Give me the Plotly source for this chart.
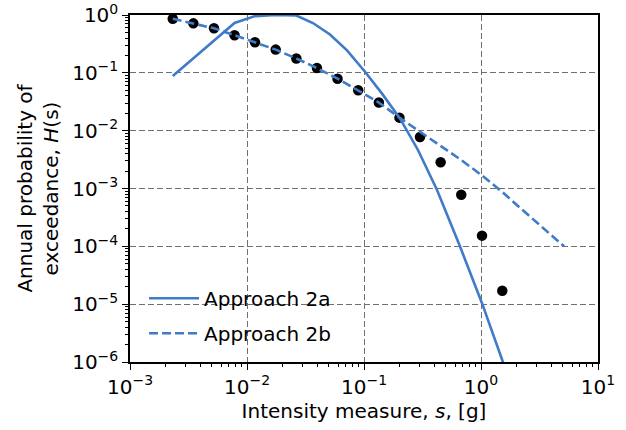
import plotly.graph_objects as go

# Hazard curve samples (intensity in g, annual exceedance probability)
obs_s = [0.00232, 0.00348, 0.00522, 0.00783, 0.0117, 0.0176, 0.0264, 0.0396,
         0.0594, 0.0892, 0.134, 0.201, 0.301, 0.452, 0.678, 1.02, 1.52]
obs_h = [0.86, 0.717, 0.589, 0.446, 0.338, 0.252, 0.177, 0.121,
         0.0792, 0.0499, 0.0306, 0.0168, 0.00776, 0.00285, 0.000782, 0.000153, 1.71e-5]

# Approach 2a (solid)
a2a_s = [0.00232, 0.00348, 0.00522, 0.00783, 0.0117, 0.0176, 0.0264, 0.0366,
         0.0512, 0.0716, 0.102, 0.1426, 0.203, 0.290, 0.421, 0.662, 1.02, 1.54, 1.95]
a2a_h = [0.088, 0.177, 0.356, 0.73, 0.957, 1.0, 0.98, 0.726,
         0.461, 0.245, 0.1045, 0.0437, 0.0163, 0.00459, 9.4e-4, 9.9e-5, 1.04e-5, 1.04e-6, 2.6e-7]

# Approach 2b (dashed)
a2b_s = [0.00232, 0.00348, 0.00522, 0.00783, 0.0117, 0.0176, 0.0264, 0.0396,
         0.0594, 0.0892, 0.134, 0.201, 0.301, 0.452, 0.678, 1.02, 1.52, 2.28, 3.42, 5.13]
a2b_h = [0.86, 0.717, 0.589, 0.446, 0.338, 0.252, 0.177, 0.121,
         0.0792, 0.0499, 0.0306, 0.0168, 0.0096, 0.0054, 0.0031, 0.00168, 8.7e-4, 4.2e-4, 2.05e-4, 1.0e-4]

x_tick_vals = [1e-3, 1e-2, 1e-1, 1e0, 1e1]
x_tick_text = ["10<sup>−3</sup>", "10<sup>−2</sup>", "10<sup>−1</sup>", "10<sup>0</sup>", "10<sup>1</sup>"]
y_tick_vals = [1e-6, 1e-5, 1e-4, 1e-3, 1e-2, 1e-1, 1e0]
y_tick_text = ["10<sup>−6</sup>", "10<sup>−5</sup>", "10<sup>−4</sup>", "10<sup>−3</sup>",
               "10<sup>−2</sup>", "10<sup>−1</sup>", "10<sup>0</sup>"]

blue = "#3f7bc6"
font = "DejaVu Sans, Verdana, sans-serif"
fs = 20

fig = go.Figure()
fig.add_trace(go.Scatter(x=obs_s, y=obs_h, mode="markers", showlegend=False,
                         marker=dict(color="black", size=10.5, line=dict(width=0))))
fig.add_trace(go.Scatter(x=a2a_s, y=a2a_h, mode="lines", name="Approach 2a",
                         legendgroup="a", line=dict(color=blue, width=2.6)))
fig.add_trace(go.Scatter(x=a2b_s, y=a2b_h, mode="lines", name="Approach 2b",
                         legendgroup="b", line=dict(color=blue, width=2.6, dash="9px,4px")))

axis_common = dict(type="log", showline=True, mirror=True, linecolor="black", linewidth=1.5,
                   ticks="outside", ticklen=6, tickwidth=1.3, tickcolor="black",
                   tickfont=dict(family=font, size=fs, color="black"), zeroline=False,
                   showgrid=True, gridcolor="#707070", gridwidth=1.4, griddash="6px,3px",
                   minor=dict(ticks="outside", ticklen=3.5, tickwidth=1, tickcolor="black",
                              dtick="D1", showgrid=False),
                   ticklabeloverflow="allow", automargin=False)

fig.update_xaxes(range=[-3, 1], tickvals=x_tick_vals, ticktext=x_tick_text,
                 title=dict(text="Intensity measure, <i>s</i>, [g]",
                            font=dict(family=font, size=fs, color="black"), standoff=6),
                 **axis_common)
fig.update_yaxes(range=[-6, 0], tickvals=y_tick_vals, ticktext=y_tick_text,
                 title=dict(text="Annual probability of<br>exceedance, <i>H</i>(s)",
                            font=dict(family=font, size=fs, color="black"), standoff=8),
                 **axis_common)

fig.update_layout(
    width=626, height=430,
    margin=dict(l=130, r=28, t=15, b=68),
    plot_bgcolor="white", paper_bgcolor="white",
    font=dict(family=font, size=fs, color="black"),
    legend=dict(x=0.03, y=0.24, xanchor="left", yanchor="top",
                bgcolor="rgba(0,0,0,0)", font=dict(family=font, size=fs, color="black"),
                itemwidth=50, tracegroupgap=6),
)

fig.write_html("out.html")
